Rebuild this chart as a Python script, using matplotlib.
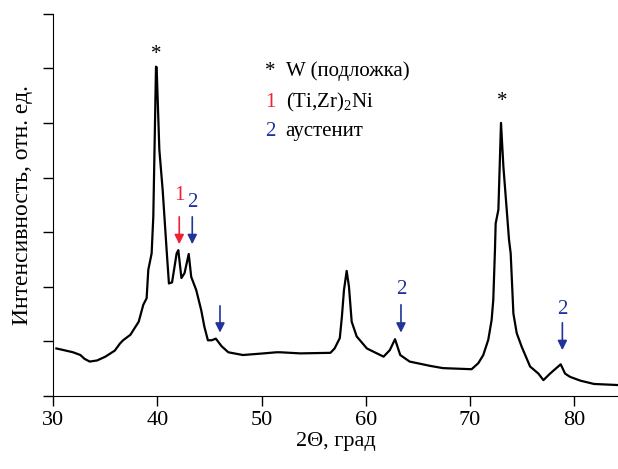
import matplotlib
matplotlib.use("Agg")
import matplotlib.pyplot as plt

plt.rcParams['font.family'] = ['Liberation Serif', 'DejaVu Serif']

# XRD pattern (y in tick units)
theta = [30.3, 31.0, 31.9, 32.6, 33.0, 33.5, 34.2, 35.0, 35.9, 36.4, 36.7, 37.4,
         38.2, 38.64, 38.96, 39.12, 39.44, 39.6, 39.86, 39.92, 40.18, 40.5, 40.88,
         41.1, 41.4, 41.84, 42.0, 42.3, 42.6, 43.0, 43.24, 43.72, 44.2,
         44.5, 44.84, 45.2, 45.6, 46.16, 46.8, 48.2, 50.2, 51.4, 51.8,
         53.7, 56.6, 57.0, 57.5, 57.7, 57.9, 58.16, 58.38, 58.64, 59.12, 60.1,
         61.7, 62.3, 62.8, 63.3, 64.2, 66.2, 67.4, 70.15, 70.79, 71.27, 71.75,
         72.07, 72.23, 72.39, 72.46, 72.72, 72.97, 73.2, 73.52, 73.74, 73.9,
         74.16, 74.48, 74.96, 75.76, 76.56, 77.04, 77.68, 78.7, 79.12, 79.6,
         80.6, 81.9, 84.2]
intensity = [0.87, 0.84, 0.80, 0.75, 0.68, 0.63, 0.65, 0.72, 0.83, 0.96, 1.02, 1.12,
             1.36, 1.67, 1.79, 2.31, 2.61, 3.28, 6.03, 6.02, 4.51, 3.77, 2.67,
             2.06, 2.08, 2.61, 2.67, 2.16, 2.25, 2.60, 2.18, 1.94, 1.57,
             1.27, 1.02, 1.02, 1.05, 0.91, 0.80, 0.75, 0.78, 0.80, 0.80,
             0.78, 0.79, 0.87, 1.06, 1.45, 1.94, 2.29, 2.0, 1.36, 1.09, 0.87,
             0.72, 0.84, 1.04, 0.75, 0.63, 0.55, 0.51, 0.49, 0.60, 0.75, 1.03,
             1.39, 1.76, 2.67, 3.16, 3.41, 5.0, 4.2, 3.41, 2.86, 2.61,
             1.51, 1.15, 0.90, 0.54, 0.41, 0.29, 0.41, 0.58, 0.41, 0.35,
             0.28, 0.22, 0.20]

# peak markers: (x, arrow top, arrow tip, label, label y, colour)
red = '#ee2233'
blue = '#223399'
arrow_x = [42.09, 43.34, 46.0, 63.37, 78.86]
arrow_top = [3.28, 3.28, 1.65, 1.67, 1.34]
arrow_tip = [2.78, 2.78, 1.16, 1.16, 0.84]
arrow_lbl = ['1', '2', '', '2', '2']
arrow_lbl_y = [3.68, 3.55, 0, 1.95, 1.59]
arrow_col = [red, blue, blue, blue, blue]

star_x = [39.9, 73.1]
star_y = [6.25, 5.39]

legend_sym = ['*', '1', '2']
legend_col = ['black', red, blue]
legend_txt = ['W (подложка)', '(Ti,Zr)$_\\mathregular{2}$Ni', 'аустенит']
legend_y = [5.94, 5.37, 4.84]

fig = plt.figure(figsize=(6.18, 4.69), dpi=100)
ax = fig.add_axes([0.0862, 0.1557, 0.9138, 0.8151])

ax.plot(theta, intensity, color='black', lw=1.6)

for i in range(len(arrow_x)):
    ax.annotate('', xy=(arrow_x[i], arrow_tip[i]), xytext=(arrow_x[i], arrow_top[i]),
                arrowprops=dict(arrowstyle='-|>', color=arrow_col[i], lw=1.2,
                                mutation_scale=14, shrinkA=0, shrinkB=0))
    if arrow_lbl[i]:
        ax.text(arrow_x[i], arrow_lbl_y[i], arrow_lbl[i], color=arrow_col[i],
                fontsize=15, ha='center', va='center')

for i in range(len(star_x)):
    ax.text(star_x[i], star_y[i], '*', fontsize=15, ha='center', va='center')

for i in range(len(legend_sym)):
    ax.text(50.8, legend_y[i], legend_sym[i], color=legend_col[i], fontsize=15,
            ha='center', va='center')
    ax.text(52.3, legend_y[i], legend_txt[i], fontsize=15, ha='left', va='center')

ax.set_xlim(30, 84.2)
ax.set_ylim(0, 7)
ax.set_xticks([30, 40, 50, 60, 70, 80])
ax.set_yticks(range(0, 8))
ax.set_yticklabels([])
ax.spines['top'].set_visible(False)
ax.spines['right'].set_visible(False)
ax.tick_params(axis='both', direction='out', length=7, width=1, labelsize=16)
ax.set_xlabel('2Θ, град', fontsize=16, labelpad=2)
ax.set_ylabel('Интенсивность, отн. ед.', fontsize=17, labelpad=4)

plt.savefig('out.png', dpi=100)
